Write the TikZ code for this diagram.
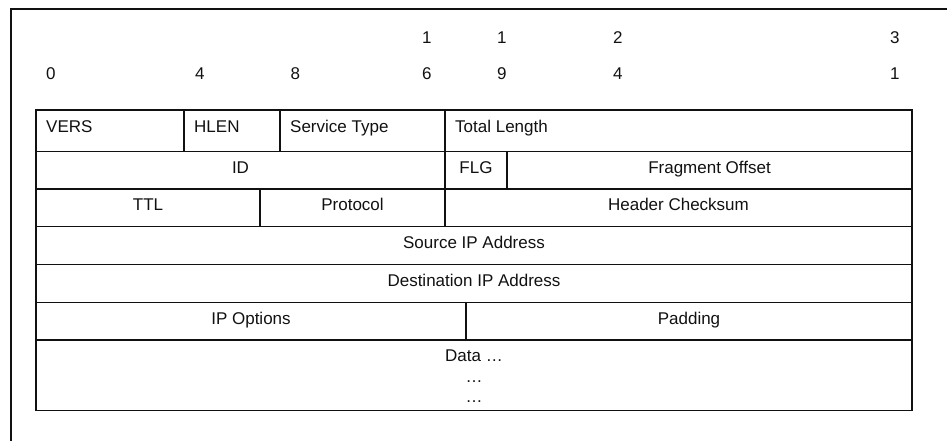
\documentclass[tikz,border=0pt]{standalone}
\usepackage{fontspec}
\setmainfont{Liberation Sans}
\usepackage{tikz}
\usetikzlibrary{positioning}
\definecolor{ink}{HTML}{111111}

\begin{document}
\begin{tikzpicture}[x=1pt,y=-1pt,font=\fontsize{17}{20.5}\selectfont,
 cell/.style={draw=ink,line width=1.4pt},
 lab/.style={anchor=base,inner sep=0pt,text=ink}]
\useasboundingbox (0,0) rectangle (947,441);
\draw[ink,line width=1.2pt] (11,441) -- (11,9) -- (947,9);
% bit numbers
\foreach \x/\d [count=\i] in {46/0,195/4,290.5/8,422/6,497/9,613/4,890/1}
 \node[lab,anchor=base west] (lo\i) at (\x,80) {\d};
\foreach \x/\d [count=\i] in {422/1,497/1,613/2,890/3}
 \node[lab,anchor=base west] (hi\i) at (\x,44) {\d};
% first row, text on the left
\foreach \nm/\xa/\xb/\txt in {vers/36/184/VERS,hlen/184/280/HLEN,tos/280/445/Service Type,len/445/912/Total Length} {
 \draw[cell] (\xa,110) rectangle (\xb,151.5);
 \node[lab,anchor=base west] (\nm) at (\xa+10,132.5) {\txt};}
% other fields, text centred
\foreach \nm/\xa/\ya/\xb/\yb/\txt in {id/36/151.5/445/189/ID,flg/445/151.5/507/189/FLG,frag/507/151.5/912/189/Fragment Offset,ttl/36/189/260/226.5/TTL,proto/260/189/445/226.5/Protocol,csum/445/189/912/226.5/Header Checksum,src/36/226.5/912/264.5/Source IP Address,dst/36/264.5/912/302.5/Destination IP Address,opt/36/302.5/466/340/IP Options,pad/466/302.5/912/340/Padding} {
 \draw[cell] (\xa,\ya) rectangle (\xb,\yb);
 \node[lab] (\nm) at ({(\xa+\xb)/2},{(\ya+\yb)/2+3}) {\txt};}
\draw[cell] (36,340) rectangle (912,410.5);
\node[lab] (data) at (474,361.5) {Data …};
\node[lab] (dots1) at (474,382) {…};
\node[lab] (dots2) at (474,402.5) {…};
\end{tikzpicture}
\end{document}
